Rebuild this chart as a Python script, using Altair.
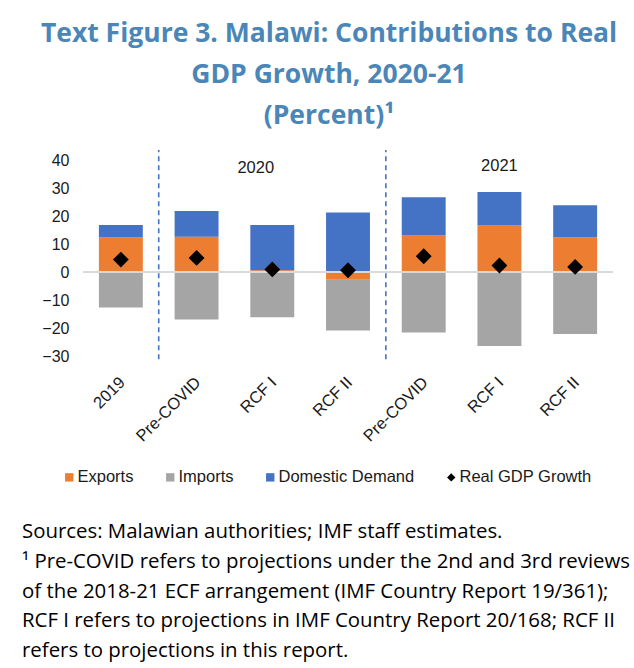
import altair as alt
import pandas as pd

# ---------------- data ----------------
categories = ["2019", "Pre-COVID", "RCF I", "RCF II", "Pre-COVID", "RCF I", "RCF II"]
years = ["2019", "2020", "2020", "2020", "2021", "2021", "2021"]
exports = [12.5, 12.7, 0.7, -2.7, 13.1, 16.7, 12.5]
imports = [-12.6, -16.9, -16.1, -18.1, -21.5, -26.4, -22.1]
domestic_demand = [4.4, 9.2, 16.2, 21.3, 13.7, 11.9, 11.4]
real_gdp_growth = [4.5, 5.1, 1.0, 0.7, 5.7, 2.4, 1.9]

series_names = ["Exports", "Imports", "Domestic Demand", "Real GDP Growth"]
series_colors = ["#ED7D31", "#A5A5A5", "#4472C4", "#000000"]
series_shapes = ["square", "square", "square", "diamond"]

y_ticks = [-30, -20, -10, 0, 10, 20, 30, 40]
y_domain = [-32, 44]

# separators: category boundaries (number of categories before the line)
separator_boundary = [1, 4]
separator_low = [-31.1, -31.1]
separator_high = [43.6, 43.6]

year_labels = ["2020", "2021"]
year_label_keys = ["RCF I|2020", "RCF I|2021"]
year_label_y = [37.1, 37.9]
year_label_dx = [-16.5, 0]

title_lines = [
    "Text Figure 3. Malawi: Contributions to Real",
    "GDP Growth, 2020-21",
    "(Percent)\u00b9",
]
footnote_lines = [
    "Sources: Malawian authorities; IMF staff estimates.",
    "\u00b9 Pre-COVID refers to projections under the 2nd and 3rd reviews",
    "of the 2018-21 ECF arrangement (IMF Country Report 19/361);",
    "RCF I refers to projections in IMF Country Report 20/168; RCF II",
    "refers to projections in this report.",
]

# ---------------- tables ----------------
keys = [f"{c}|{y}" for c, y in zip(categories, years)]

bar_rows = []
for k, e, i, d in zip(keys, exports, imports, domestic_demand):
    bar_rows.append({"key": k, "series": "Exports", "order": 0, "value": e})
    bar_rows.append({"key": k, "series": "Imports", "order": 1, "value": i})
    bar_rows.append({"key": k, "series": "Domestic Demand", "order": 2, "value": d})
bars_df = pd.DataFrame(bar_rows)

gdp_df = pd.DataFrame({"key": keys, "gdp": real_gdp_growth, "series": "Real GDP Growth"})
sep_df = pd.DataFrame({"b": separator_boundary, "lo": separator_low, "hi": separator_high})
year_df = pd.DataFrame({"key": year_label_keys, "label": year_labels, "y": year_label_y})
foot_df = pd.DataFrame({"i": list(range(len(footnote_lines))), "text": footnote_lines})

# ---------------- encodings ----------------
AX_FONT = "Liberation Sans"
TXT = "#1a1a1a"
x_scale = alt.Scale(domain=keys, paddingInner=0.42, paddingOuter=0.21)
y_scale = alt.Scale(domain=y_domain, nice=False, zero=False)

x_axis = alt.Axis(
    title=None,
    labelExpr="split(datum.label, '|')[0]",
    labelAngle=-45,
    labelAlign="right",
    labelBaseline="top",
    labelPadding=12,
    labelOffset=-4,
    labelFont=AX_FONT,
    labelFontSize=16.5,
    labelColor=TXT,
    labelOverlap=False,
    ticks=False,
    domain=False,
    grid=False,
)
y_axis = alt.Axis(
    title=None,
    values=y_ticks,
    domain=False,
    ticks=False,
    grid=False,
    labelPadding=14,
    labelFont=AX_FONT,
    labelFontSize=16,
    labelColor=TXT,
    labelOverlap=False,
)

legend = alt.Legend(
    title=None,
    orient="none",
    legendX=-22,
    legendY=320,
    direction="horizontal",
    labelFont=AX_FONT,
    labelFontSize=16.5,
    labelColor=TXT,
    symbolSize=70,
    symbolStrokeWidth=0,
    columnPadding=28,
    labelOffset=0,
)
color_enc = alt.Color(
    "series:N", scale=alt.Scale(domain=series_names, range=series_colors), legend=legend
)
shape_enc = alt.Shape(
    "series:N", scale=alt.Scale(domain=series_names, range=series_shapes), legend=legend
)

x_enc = alt.X("key:N", scale=x_scale, axis=x_axis, sort=keys)

bars = (
    alt.Chart(bars_df)
    .mark_bar()
    .encode(
        x=x_enc,
        y=alt.Y("value:Q", scale=y_scale, axis=y_axis, stack="zero"),
        color=color_enc,
        order=alt.Order("order:Q", sort="ascending"),
    )
)

zero_line = alt.Chart(bars_df).mark_rule(color="#D9D9D9", strokeWidth=1.5).encode(
    y=alt.Y(datum=0, scale=y_scale, axis=y_axis)
)


def year_layer(idx):
    return (
        alt.Chart(year_df)
        .transform_filter(alt.datum.label == year_labels[idx])
        .mark_text(font=AX_FONT, fontSize=16.5, color=TXT, baseline="middle",
                   dx=year_label_dx[idx])
        .encode(
            x=x_enc,
            y=alt.Y("y:Q", scale=y_scale, axis=y_axis),
            text="label:N",
        )
    )


points = (
    alt.Chart(gdp_df)
    .mark_point(filled=True, size=250, opacity=1)
    .encode(
        x=x_enc,
        y=alt.Y("gdp:Q", scale=y_scale, axis=y_axis),
        color=color_enc,
        shape=shape_enc,
    )
)

cat_layers = alt.layer(bars, zero_line, year_layer(0), year_layer(1), points)

separators = (
    alt.Chart(sep_df)
    .mark_rule(color="#4472C4", strokeWidth=1.6, strokeDash=[5, 4])
    .encode(
        x=alt.X("b:Q", scale=alt.Scale(domain=[0, len(keys)], nice=False, zero=False), axis=None),
        y=alt.Y("lo:Q", scale=y_scale, axis=y_axis),
        y2="hi:Q",
    )
)

main = (
    alt.layer(cat_layers, separators)
    .resolve_scale(x="independent")
    .properties(width=530, height=212.8)
)

foot = (
    alt.Chart(foot_df)
    .mark_text(align="left", baseline="middle", font="Open Sans", fontSize=20.4, color="#000000")
    .encode(
        x=alt.value(-61),
        y=alt.Y("i:O", axis=None),
        text="text:N",
    )
    .properties(width=530, height=148.5)
)

chart = (
    alt.vconcat(main, foot, spacing=155.5, bounds="flush")
    .properties(
        title=alt.Title(
            text=title_lines,
            font="Open Sans",
            fontSize=26.5,
            fontWeight="bold",
            color="#4A86B7",
            lineHeight=41,
            anchor="middle",
            dx=3,
            offset=20,
        ),
        padding={"left": 22, "top": 20, "right": 0, "bottom": 0},
    )
    .configure_view(stroke=None)
)

chart.save("out.html", embed_options={"renderer": "svg", "actions": False})
